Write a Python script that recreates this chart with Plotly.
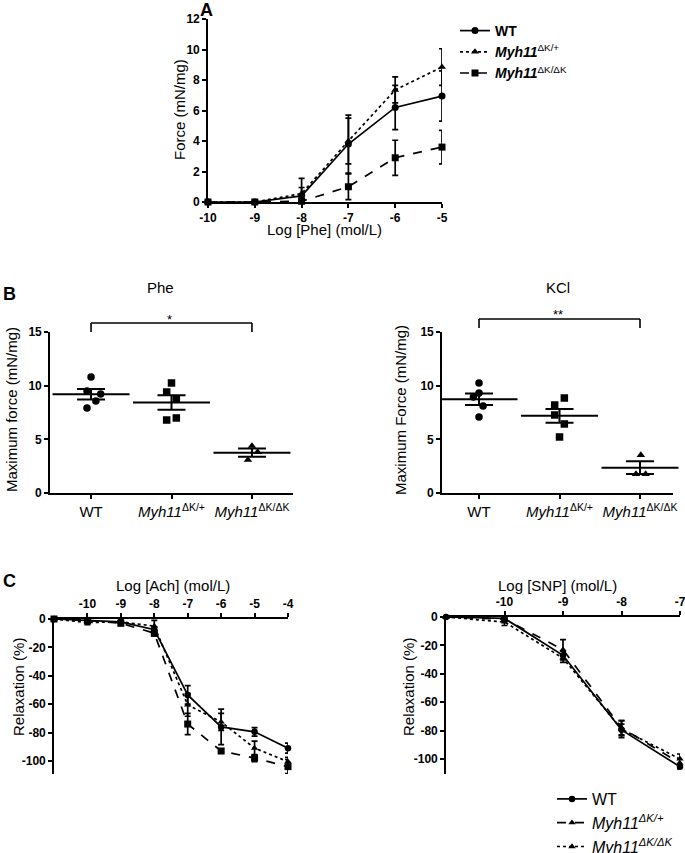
import numpy as np
import plotly.graph_objects as go

W = 685
H = 880  # a few px taller than the window; the overflow is hidden
FONT = "Liberation Sans, Arial, sans-serif"

# ---------------- Panel A data ----------------
log_phe = [-10, -9, -8, -7, -6, -5]
a_wt = [0, 0, 0.4, 3.8, 6.2, 6.95]
a_wt_err = [0, 0, 0.55, 1.9, 1.45, 1.65]
a_het = [0, 0, 0.55, 4.0, 7.35, 8.85]
a_het_err = [0, 0, 1.0, 1.5, 0.85, 1.2]
a_hom = [0, 0, 0.05, 1.0, 2.9, 3.6]
a_hom_err = [0, 0, 0.05, 0.85, 1.15, 1.1]
a_ticks = [0, 2, 4, 6, 8, 10, 12]

# ---------------- Panel B data ----------------
b_categories = ["WT", "<i>Myh11</i><sup>ΔK/+</sup>", "<i>Myh11</i><sup>ΔK/ΔK</sup>"]
phe_wt = [10.8, 9.5, 9.23, 8.57, 7.92]
phe_het = [10.25, 9.41, 8.76, 6.99, 6.8]
phe_hom = [4.38, 3.82, 3.08]
kcl_wt = [10.25, 9.32, 8.95, 8.11, 7.08]
kcl_het = [8.85, 8.2, 7.27, 6.43, 5.22]
kcl_hom = [3.54, 1.77, 1.77]
# horizontal jitter of the individual points (category units)
phe_wt_jit = [0.0, -0.05, 0.12, 0.06, -0.05]
phe_het_jit = [0.0, -0.06, 0.06, 0.06, -0.06]
phe_hom_jit = [0.0, 0.07, -0.05]
kcl_wt_jit = [0.0, 0.0, -0.07, 0.05, 0.0]
kcl_het_jit = [0.06, -0.06, -0.06, 0.06, 0.0]
kcl_hom_jit = [0.01, -0.05, 0.07]
b_ticks = [0, 5, 10, 15]

# ---------------- Panel C data ----------------
log_ach = [-11, -10, -9, -8, -7, -6, -5, -4]
c_wt = [0, -1, -2, -7.5, -53.5, -76, -79.5, -91]
c_wt_err = [0, 1, 1, 2, 6.5, 12.5, 3, 3.5]
c_het = [0, -2.5, -2, -5, -60.5, -72.5, -91, -100.5]
c_het_err = [0, 1.5, 1, 4, 8, 6, 5, 3]
c_hom = [0, -1, -3, -10, -74, -93, -98, -104]
c_hom_err = [0, 1, 1.5, 2, 7.5, 1.5, 2.5, 5]

log_snp = [-11, -10, -9, -8, -7]
d_wt = [0, -1, -27, -79.5, -105.5]
d_wt_err = [0, 1, 3, 4, 1.5]
d_het = [0, -1.5, -23, -78, -103]
d_het_err = [0, 1.5, 7, 5, 3]
d_hom = [0, -3.5, -29, -79, -100]
d_hom_err = [0, 2.5, 3, 6, 3.5]
c_ticks = [0, -20, -40, -60, -80, -100]
ach_ticks = [-10, -9, -8, -7, -6, -5, -4]
snp_ticks = [-10, -9, -8, -7]


def px(x):
    return x / W


def py(y):
    return 1 - y / H


def xd(p0, p1):
    return [px(p0), px(p1)]


def yd(p0, p1):
    return [py(p1), py(p0)]


fig = go.Figure()

LW = 1.7


def curve(x, y, err, name, symbol, dash, xa, ya, legend=None, show=False, size=7):
    fig.add_trace(go.Scatter(
        x=x, y=y, mode="lines+markers", name=name,
        line=dict(color="black", width=LW, dash=dash),
        marker=dict(symbol=symbol, size=size, color="black"),
        error_y=dict(type="data", array=err, visible=True, color="black",
                     thickness=1.7, width=3),
        xaxis=xa, yaxis=ya, cliponaxis=False,
        showlegend=show, legend=legend if legend else "legend",
    ))


# Panel A
curve(log_phe, a_wt, a_wt_err, "<b>WT</b>", "circle", "solid", "x", "y", "legend", True)
curve(log_phe, a_het, a_het_err, "<b><i>Myh11</i></b><sup>ΔK/+</sup>", "triangle-up", "dot", "x", "y", "legend", True)
curve(log_phe, a_hom, a_hom_err, "<b><i>Myh11</i></b><sup>ΔK/ΔK</sup>", "square", "dash", "x", "y", "legend", True)


# Panel B
def dots(vals, jit, idx, symbol, xa, ya):
    xs = [idx + j for j in jit]
    fig.add_trace(go.Scatter(
        x=xs, y=vals, mode="markers",
        marker=dict(symbol=symbol, size=7.5, color="black"),
        xaxis=xa, yaxis=ya, showlegend=False, cliponaxis=False))
    arr = np.array(vals, dtype=float)
    mean = arr.mean()
    sem = arr.std(ddof=1) / np.sqrt(len(arr))
    fig.add_trace(go.Scatter(
        x=[idx], y=[mean], mode="markers",
        marker=dict(symbol="line-ew", size=55, color="black",
                    line=dict(width=2, color="black")),
        error_y=dict(type="data", array=[sem], visible=True, color="black",
                     thickness=2, width=14),
        xaxis=xa, yaxis=ya, showlegend=False, cliponaxis=False))


dots(phe_wt, phe_wt_jit, 0, "circle", "x2", "y2")
dots(phe_het, phe_het_jit, 1, "square", "x2", "y2")
dots(phe_hom, phe_hom_jit, 2, "triangle-up", "x2", "y2")
dots(kcl_wt, kcl_wt_jit, 0, "circle", "x3", "y3")
dots(kcl_het, kcl_het_jit, 1, "square", "x3", "y3")
dots(kcl_hom, kcl_hom_jit, 2, "triangle-up", "x3", "y3")

# Panel C
curve(log_ach, c_wt, c_wt_err, "WT", "circle", "solid", "x4", "y4", size=6.5)
curve(log_ach, c_het, c_het_err, "het", "triangle-up", "dot", "x4", "y4", size=6.5)
curve(log_ach, c_hom, c_hom_err, "hom", "square", "dash", "x4", "y4", size=7)

curve(log_snp, d_wt, d_wt_err, "WT", "circle", "solid", "x5", "y5", "legend2", True, size=6.5)
curve(log_snp, d_het, d_het_err, "<i>Myh11<sup>ΔK/+</sup></i>", "triangle-up", "dash", "x5", "y5", "legend2", True, size=6.5)
curve(log_snp, d_hom, d_hom_err, "<i>Myh11<sup>ΔK/ΔK</sup></i>", "triangle-up", "dot", "x5", "y5", "legend2", True, size=6.5)

TICKF = dict(family=FONT, size=12, color="black", weight="bold")
base_axis = dict(showline=True, linecolor="black", linewidth=1.6, ticks="outside",
                 ticklen=4, tickwidth=1.6, tickcolor="black", showgrid=False,
                 zeroline=False, tickfont=TICKF, automargin=False, fixedrange=True,
                 ticklabeloverflow="allow")


def ax(**kw):
    d = dict(base_axis)
    d.update(kw)
    return d


fig.update_layout(
    width=W, height=H, margin=dict(l=0, r=0, t=0, b=0),
    paper_bgcolor="white", plot_bgcolor="white",
    font=dict(family=FONT, color="black"),
    xaxis=ax(domain=xd(208, 442), range=[-10, -5], anchor="y",
             tickvals=log_phe, ticktext=[str(v) for v in log_phe]),
    yaxis=ax(domain=yd(19, 202), range=[0, 12], anchor="x",
             tickvals=a_ticks, ticktext=[str(v) for v in a_ticks]),
    xaxis2=ax(domain=xd(50, 293), range=[-0.51, 2.51], anchor="y2",
              tickvals=[0, 1, 2], ticktext=b_categories,
              tickfont=dict(family=FONT, size=15, color="black")),
    yaxis2=ax(domain=yd(332, 493), range=[0, 15], anchor="x2",
              tickvals=b_ticks, ticktext=[str(v) for v in b_ticks]),
    xaxis3=ax(domain=xd(442, 673), range=[-0.46, 2.41], anchor="y3",
              tickvals=[0, 1, 2], ticktext=b_categories,
              tickfont=dict(family=FONT, size=15, color="black")),
    yaxis3=ax(domain=yd(332, 493), range=[0, 15], anchor="x3",
              tickvals=b_ticks, ticktext=[str(v) for v in b_ticks]),
    xaxis4=ax(domain=xd(54, 288), range=[-11, -4], anchor="y4", side="top",
              tickvals=ach_ticks, ticktext=[str(v) for v in ach_ticks]),
    yaxis4=ax(domain=yd(619, 774), range=[-109.2, 0], anchor="x4",
              tickvals=c_ticks, ticktext=[str(v) for v in c_ticks]),
    xaxis5=ax(domain=xd(446, 680), range=[-11, -7], anchor="y5", side="top",
              tickvals=snp_ticks, ticktext=[str(v) for v in snp_ticks]),
    yaxis5=ax(domain=yd(617, 774), range=[-110.6, 0], anchor="x5",
              tickvals=c_ticks, ticktext=[str(v) for v in c_ticks]),
    legend=dict(x=px(455), y=py(15), xanchor="left", yanchor="top",
                font=dict(family=FONT, size=14, color="black"),
                bgcolor="rgba(0,0,0,0)", itemwidth=30, tracegroupgap=0),
    legend2=dict(x=px(552), y=py(782), xanchor="left", yanchor="top",
                 font=dict(family=FONT, size=16, color="black"),
                 bgcolor="rgba(0,0,0,0)", itemwidth=30, tracegroupgap=0),
)


# brackets (B)
def bracket(xa, i0, i1, ytop, ybot0, ybot1):
    line = dict(color="black", width=1.6)
    fig.add_shape(type="line", xref=xa, yref="paper", x0=i0, x1=i1, y0=py(ytop), y1=py(ytop), line=line)
    fig.add_shape(type="line", xref=xa, yref="paper", x0=i0, x1=i0, y0=py(ytop), y1=py(ybot0), line=line)
    fig.add_shape(type="line", xref=xa, yref="paper", x0=i1, x1=i1, y0=py(ytop), y1=py(ybot1), line=line)


bracket("x2", 0, 2, 323, 332, 332)
bracket("x3", 0, 2, 319, 328, 328)


def text(s, x, y, size=15, angle=0, bold=False):
    fig.add_annotation(text=s, x=px(x), y=py(y), xref="paper", yref="paper",
                       showarrow=False, xanchor="center", yanchor="middle",
                       textangle=angle,
                       font=dict(family=FONT, size=size, color="black",
                                 weight="bold" if bold else "normal"))


text("A", 206, 10, 18, bold=True)
text("B", 9, 294, 18, bold=True)
text("C", 9, 581, 18, bold=True)
text("Force (mN/mg)", 179, 110, 15, -90)
text("Log [Phe] (mol/L)", 324, 229, 15)
text("Phe", 160, 287, 15)
text("KCl", 558, 287, 15)
text("Maximum force (mN/mg)", 12, 410, 15, -90)
text("Maximum Force (mN/mg)", 401, 410, 15, -90)
text("*", 169, 319, 13)
text("**", 558, 314, 13)
text("Log [Ach] (mol/L)", 173, 585, 15)
text("Log [SNP] (mol/L)", 557, 585, 15)
text("Relaxation (%)", 18, 687, 15, -90)
text("Relaxation (%)", 408, 687, 15, -90)

# remove the browser's default 8px page margin and hide the few extra px at the bottom
fig.write_html("out.html", config={"displayModeBar": False},
               post_script="document.body.style.margin='0px';"
                           "document.body.style.overflow='hidden';"
                           "document.documentElement.style.overflow='hidden';")
